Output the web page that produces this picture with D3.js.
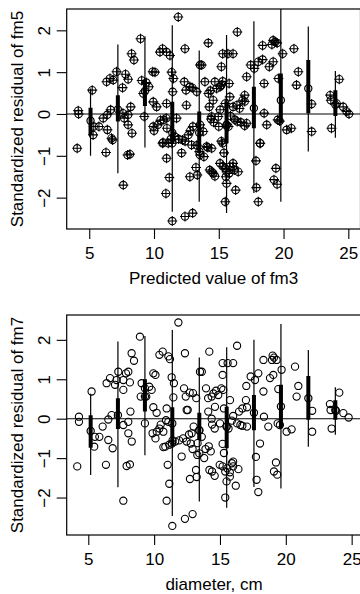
<!DOCTYPE html>
<html><head><meta charset="utf-8">
<script src="https://cdn.jsdelivr.net/npm/d3@7"></script>
<style>
html,body{margin:0;padding:0;background:#fff;}
svg{display:block;font-family:"Liberation Sans",Arial,Helvetica,sans-serif;}
</style></head><body>
<svg id="chart" width="360" height="594"></svg>
<script>
// Standardized residuals of fm5 against predicted values of fm3: [predicted, residual]
const fm5Points = [
[4.15,0.08],[4.18,0.0],[4.07,-0.82],[5.23,0.57],[5.35,-0.30],[5.3,-0.5],[5.75,-0.30],[6.08,-0.10],[6.39,-0.02],[6.65,0.10],
[6.34,0.77],[6.6,0.85],[6.85,0.81],[6.4,-0.38],[6.72,-0.58],[7.11,1.01],[7.6,0.02],[7.7,-0.10],[7.57,0.63],[7.8,0.95],
[8.0,0.83],[8.27,1.44],[8.45,1.29],[8.2,0.17],[8.0,-0.02],[8.0,-0.26],[8.3,-0.46],[8.96,1.80],[9.05,0.80],[9.17,0.49],
[9.25,-0.06],[9.4,0.75],[9.6,0.65],[9.9,1.01],[10.07,1.0],[9.94,0.29],[10.2,0.17],[9.94,-0.30],[10.3,-0.26],[10.46,1.48],
[10.66,1.56],[10.97,1.48],[11.23,1.40],[10.97,0.25],[10.75,-0.14],[10.95,-0.10],[11.0,-0.34],[10.7,-0.68],[11.36,1.0],[11.5,0.85],
[11.44,0.53],[11.87,2.32],[11.74,-0.1],[11.6,-0.54],[12.39,1.56],[12.34,0.77],[12.47,0.57],[12.5,0.21],[12.77,0.65],[12.95,0.63],
[13.3,0.53],[13.55,1.17],[13.68,1.17],[13.55,-0.26],[13.8,-0.42],[13.93,0.77],[14.2,0.49],[14.35,0.56],[14.19,1.70],[14.27,0.17],
[14.45,-0.06],[14.57,0.33],[14.7,0.77],[14.83,0.61],[14.96,-0.06],[15.1,0.10],[15.1,0.65],[15.2,0.69],[15.3,0.78],[15.2,1.13],
[15.3,1.44],[15.7,1.44],[16.1,1.44],[15.8,0.73],[15.5,0.25],[15.85,0.41],[15.6,-0.26],[15.75,-0.30],[16.43,1.96],[16.1,0.17],
[16.4,0.21],[16.6,0.13],[16.84,0.33],[16.25,-0.14],[16.43,-0.18],[17.15,-0.22],[17.15,0.89],[17.0,0.45],[17.0,0.30],[17.46,1.17],
[17.74,1.09],[18.05,1.25],[18.38,1.30],[18.38,1.64],[18.5,0.02],[18.7,-0.26],[18.2,-0.70],[18.9,1.13],[19.2,1.25],[18.5,0.73],
[19.1,1.66],[19.2,1.76],[19.35,1.72],[19.5,1.70],[19.55,-0.14],[19.7,-0.17],[19.93,1.44],[19.6,0.85],[20.24,-0.38],[20.6,-0.34],
[20.8,1.56],[21.14,1.01],[21.0,0.69],[22.17,0.24],[22.17,-0.42],[23.6,0.45],[23.65,0.33],[23.7,-0.34],[24.3,0.83],[24.1,0.25],
[24.6,0.17],[24.87,0.06],[25.05,0.0],[6.29,-0.92],[6.8,-0.62],[7.96,-0.98],[8.14,-0.96],[7.63,-1.70],[10.66,-0.70],[11.1,-0.70],
[10.97,-1.06],[11.18,-1.52],[10.92,-1.90],[11.41,-2.56],[12.13,-0.93],[12.39,-2.45],[12.98,-2.37],[12.77,-1.50],[13.24,-1.28],[13.34,-1.46],
[12.9,-0.74],[13.5,-0.90],[13.55,-0.98],[13.85,-1.02],[14.06,-0.78],[14.45,-0.82],[14.3,-1.34],[14.45,-1.38],[14.57,-1.42],[14.7,-1.49],
[15.3,-0.70],[15.4,-0.93],[15.1,-1.18],[15.3,-1.25],[15.5,-1.30],[15.6,-1.38],[15.8,-1.42],[15.55,-1.50],[15.85,-1.26],[16.1,-1.18],
[16.1,-1.26],[16.2,-1.34],[15.6,-1.66],[15.5,-2.10],[16.3,-1.82],[16.5,-1.38],[17.87,-1.12],[17.9,-1.76],[18.05,-2.10],[18.18,-0.70],
[19.41,-1.30],[19.26,-1.57],[19.5,-1.68],[10.0,-0.40],[10.5,-0.15],[11.3,-0.60],[11.4,-0.70],[11.9,-0.60],[12.2,-0.62],[12.4,-0.65],
[12.65,-0.50],[12.8,-0.40],[13.0,-0.30],[13.3,-0.75],[14.15,-0.80],[14.4,-0.12],[14.6,-0.20],[15.0,-0.30],[15.2,-0.65],[15.9,-0.05],
[16.7,-0.20],[17.0,-0.28]
];

// Standardized residuals of fm7 against diameter (cm): [diameter, residual]
const fm7Points = [
[4.29,0.05],[4.29,-0.08],[5.25,0.69],[5.5,-0.46],[5.45,-0.71],[5.84,-0.46],[6.09,-0.20],[6.52,-0.02],[6.52,-0.54],[6.77,0.09],
[6.85,-0.75],[6.39,0.90],[6.65,1.03],[7.03,0.86],[7.15,0.98],[7.28,1.19],[7.66,0.98],[7.66,0.73],[7.86,1.15],[8.04,1.19],
[7.66,-0.16],[8.04,-0.08],[8.04,-0.37],[8.3,-0.58],[8.16,0.92],[8.2,0.18],[8.29,1.66],[8.47,1.47],[8.92,2.08],[9.05,0.90],
[9.3,0.77],[9.4,0.56],[8.98,0.56],[9.63,0.81],[9.81,0.73],[9.94,1.15],[10.1,1.11],[9.94,0.29],[10.19,0.15],[9.3,-0.12],
[9.88,-0.37],[10.2,-0.33],[10.4,-0.25],[10.7,-0.33],[10.4,1.62],[10.65,1.70],[10.95,0.26],[11.08,1.58],[11.2,1.51],[11.33,1.05],
[11.5,0.90],[11.46,0.54],[10.9,-0.04],[11.08,-0.08],[10.85,-0.71],[11.35,-0.63],[11.6,-0.58],[11.84,2.44],[12.34,1.66],[12.27,0.77],
[12.4,0.56],[12.47,0.22],[12.55,0.22],[12.7,0.66],[12.95,0.65],[13.2,0.52],[13.48,1.19],[13.62,1.19],[13.62,-0.46],[13.43,-0.29],
[12.85,-0.37],[12.78,-0.63],[12.47,-0.58],[13.94,0.77],[14.19,1.70],[14.1,0.52],[14.37,0.56],[14.5,0.64],[14.11,0.18],[14.37,0.0],
[14.62,0.30],[14.7,0.71],[14.87,0.60],[15.0,-0.12],[15.2,1.41],[15.2,1.11],[15.1,0.77],[15.25,0.73],[15.3,0.26],[15.76,0.47],
[15.58,1.41],[16.0,1.41],[15.5,-0.20],[15.65,-0.25],[16.3,1.85],[16.0,0.07],[16.45,0.18],[16.7,0.26],[16.3,-0.12],[16.55,-0.16],
[17.05,-0.20],[16.97,0.47],[17.05,0.29],[17.0,0.83],[17.33,1.07],[17.66,0.98],[17.91,1.15],[18.3,1.49],[18.3,0.69],[18.34,0.05],
[18.67,-0.20],[18.04,-0.63],[18.8,1.03],[19.05,1.11],[18.95,1.49],[19.0,1.60],[19.1,1.55],[19.3,1.49],[19.43,0.75],[19.38,-0.12],
[19.55,-0.16],[19.68,1.24],[20.06,-0.33],[20.44,-0.27],[20.7,1.32],[20.95,0.83],[20.82,0.56],[22.0,0.20],[22.0,-0.33],[23.35,0.37],
[23.4,0.22],[23.48,-0.25],[24.06,0.66],[23.8,0.20],[24.37,0.14],[24.77,0.03],[4.16,-1.21],[6.34,-1.17],[7.91,-1.20],[8.16,-1.16],
[7.66,-2.08],[10.7,-0.72],[11.15,-0.66],[11.03,-1.17],[11.15,-1.65],[10.95,-2.08],[11.38,-2.72],[12.09,-0.96],[12.34,-2.54],[12.92,-2.42],
[12.72,-1.53],[13.18,-1.30],[13.23,-1.48],[12.92,-0.77],[13.28,-0.92],[13.43,-0.88],[13.8,-1.00],[13.9,-0.77],[14.3,-0.83],[14.2,-1.30],
[14.4,-1.34],[14.6,-1.45],[14.98,-1.17],[15.2,-1.21],[15.2,-0.64],[15.3,-0.87],[15.4,-1.34],[15.55,-1.26],[15.75,-1.36],[15.9,-1.13],
[16.0,-1.09],[16.0,-1.21],[15.75,-1.47],[15.5,-1.59],[15.4,-2.0],[16.2,-1.70],[16.4,-1.28],[17.73,-0.97],[17.78,-1.55],[17.91,-1.86],
[19.25,-1.11],[19.1,-1.34],[19.35,-1.42],[10.1,-0.50],[10.5,-0.15],[11.4,-0.55],[11.9,-0.55],[12.2,-0.50],[12.65,-0.40],[13.0,-0.20],
[13.3,-0.62],[14.15,-0.70],[14.4,-0.15],[14.6,-0.25],[15.9,-0.05],[16.7,-0.18]
];

// Binned summaries: [bin centre, lower whisker, lower quartile, median, upper quartile, upper whisker]
const fm5Bins = [
[5.10,-1.00,-0.50,-0.16,0.15,0.61],
[7.21,-1.42,-0.18,0.11,0.45,1.66],
[9.30,-0.80,0.19,0.55,0.81,1.86],
[11.41,-2.34,-0.72,-0.45,0.29,2.12],
[13.49,-2.10,-0.93,-0.45,0.06,1.52],
[15.60,-2.37,-0.70,-0.28,0.30,1.89],
[17.71,-1.89,-0.34,0.14,0.65,2.22],
[19.79,-2.10,-0.22,0.33,0.97,2.60],
[21.91,-0.90,0.02,0.61,1.29,2.09],
[24.00,-0.57,-0.05,0.22,0.57,1.03]
];
const fm7Bins = [
[5.18,-1.43,-0.74,-0.31,0.09,0.63],
[7.25,-1.74,-0.26,0.09,0.52,1.96],
[9.30,-0.93,0.18,0.56,1.00,2.10],
[11.38,-2.47,-0.70,-0.12,0.29,2.25],
[13.43,-2.10,-0.54,-0.30,0.15,1.55],
[15.51,-2.26,-0.75,-0.20,0.30,1.81],
[17.58,-1.73,-0.29,0.15,0.60,2.00],
[19.63,-1.77,-0.24,0.31,0.86,2.40],
[21.71,-0.71,-0.03,0.52,1.08,1.74],
[23.76,-0.41,-0.03,0.22,0.47,0.80]
];

const xTicks = [5, 10, 15, 20, 25];
const yTicks = [-2, -1, 0, 1, 2];
const yTickLabels = ["\u22122", "\u22121", "0", "1", "2"];

const svg = d3.select("#chart");
const FONT = 17;

function drawPanel(cfg) {
  const x = d3.scaleLinear().domain(cfg.xDomain).range([cfg.left, cfg.right]);
  const y = d3.scaleLinear().domain(cfg.yDomain).range([cfg.bottom, cfg.top]);
  const g = svg.append("g");

  // clip for plot region
  const clipId = "clip-" + cfg.id;
  svg.append("clipPath").attr("id", clipId)
    .append("rect").attr("x", cfg.left).attr("y", cfg.top)
    .attr("width", cfg.right - cfg.left).attr("height", cfg.bottom - cfg.top);

  const plot = g.append("g").attr("clip-path", `url(#${clipId})`);

  // reference line at zero
  plot.append("line")
    .attr("x1", cfg.left).attr("x2", cfg.right)
    .attr("y1", y(0)).attr("y2", y(0))
    .attr("stroke", "#000").attr("stroke-width", 1.1);

  // points
  const pts = plot.append("g").attr("fill", "none").attr("stroke", "#000").attr("stroke-width", 1.1);
  pts.selectAll("circle").data(cfg.points).join("circle")
    .attr("cx", d => x(d[0])).attr("cy", d => y(d[1])).attr("r", cfg.r);
  if (cfg.plus) {
    pts.selectAll("path.plus").data(cfg.points).join("path").attr("class", "plus")
      .attr("d", d => {
        const cx = x(d[0]), cy = y(d[1]), a = cfg.plus;
        return `M${cx - a},${cy}H${cx + a}M${cx},${cy - a}V${cy + a}`;
      });
  }

  // binned summaries
  const bins = plot.append("g").attr("stroke", "#000").attr("fill", "none");
  bins.selectAll("line.whisk").data(cfg.bins).join("line").attr("class", "whisk")
    .attr("x1", d => x(d[0])).attr("x2", d => x(d[0]))
    .attr("y1", d => y(d[1])).attr("y2", d => y(d[5]))
    .attr("stroke-width", 1.2);
  bins.selectAll("line.iqr").data(cfg.bins).join("line").attr("class", "iqr")
    .attr("x1", d => x(d[0])).attr("x2", d => x(d[0]))
    .attr("y1", d => y(d[2])).attr("y2", d => y(d[4]))
    .attr("stroke-width", 4);
  bins.selectAll("circle.med").data(cfg.bins).join("circle").attr("class", "med")
    .attr("cx", d => x(d[0])).attr("cy", d => y(d[3])).attr("r", 3.6)
    .attr("stroke-width", 1.2);

  // box
  g.append("rect")
    .attr("x", cfg.left).attr("y", cfg.top)
    .attr("width", cfg.right - cfg.left).attr("height", cfg.bottom - cfg.top)
    .attr("fill", "none").attr("stroke", "#000").attr("stroke-width", 1.2);

  // x axis
  const xa = g.append("g").attr("transform", `translate(0,${cfg.bottom})`)
    .call(d3.axisBottom(x).tickValues(xTicks).tickSize(10).tickPadding(8).tickFormat(d3.format("d")));
  xa.select(".domain").remove();
  xa.selectAll("line").attr("stroke", "#000").attr("stroke-width", 1.1);
  xa.selectAll("text").attr("font-size", FONT).attr("font-family", null).attr("fill", "#000");

  // y axis with labels turned parallel to the axis
  const ya = g.append("g").attr("transform", `translate(${cfg.left},0)`)
    .call(d3.axisLeft(y).tickValues(yTicks).tickSize(10).tickFormat((d, i) => yTickLabels[i]));
  ya.select(".domain").remove();
  ya.selectAll("line").attr("stroke", "#000").attr("stroke-width", 1.1);
  ya.selectAll("text")
    .attr("x", null).attr("dy", null)
    .attr("transform", "translate(-16.5,0) rotate(-90)")
    .attr("text-anchor", "middle")
    .attr("font-size", FONT).attr("font-family", null).attr("fill", "#000");

  // axis titles
  const cx = (cfg.left + cfg.right) / 2;
  g.append("text").attr("x", cx).attr("y", cfg.xTitleY)
    .attr("text-anchor", "middle").attr("font-size", FONT).text(cfg.xTitle);
  g.append("text")
    .attr("transform", `translate(23,${(cfg.top + cfg.bottom) / 2}) rotate(-90)`)
    .attr("text-anchor", "middle").attr("font-size", FONT).text(cfg.yTitle);
}

drawPanel({
  id: "fm5", points: fm5Points, bins: fm5Bins,
  xDomain: [3.26, 25.94], yDomain: [-2.75, 2.51],
  left: 66.7, right: 360.5, top: 9, bottom: 229,
  r: 3.7, plus: 5,
  xTitle: "Predicted value of fm3", xTitleY: 284,
  yTitle: "Standardized residual of fm5"
});

drawPanel({
  id: "fm7", points: fm7Points, bins: fm7Bins,
  xDomain: [3.36, 25.74], yDomain: [-2.95, 2.63],
  left: 66.7, right: 361.4, top: 315, bottom: 535,
  r: 3.6, plus: 0,
  xTitle: "diameter, cm", xTitleY: 590,
  yTitle: "Standardized residual of fm7"
});
</script>
</body></html>
